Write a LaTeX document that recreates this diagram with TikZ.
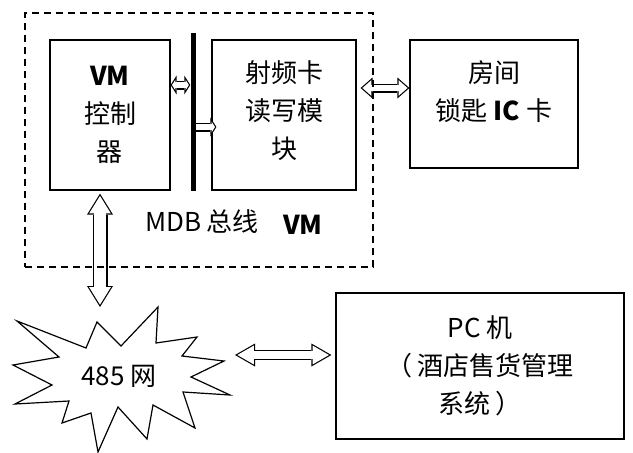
\documentclass[tikz,border=0pt]{standalone}
\usepackage{fontspec}
\setmainfont{Noto Sans CJK SC}
\usetikzlibrary{arrows.meta, positioning, calc}
\tikzset{%
  block/.style={rectangle, draw, line width=1.2pt, align=center, inner sep=0pt, font=\fontsize{26pt}{38pt}\selectfont},
  plain/.style={font=\fontsize{26pt}{38pt}\selectfont, inner sep=0pt},
  groupbox/.style={rectangle, draw, dash pattern=on 7pt off 5pt, line width=1.2pt, inner sep=0pt},
  busbar/.style={rectangle, fill=black, inner sep=0pt, minimum width=5pt},
  burst/.style={draw, line width=1.2pt, fill=white, line join=miter},
  % hollow arrows: black outline first, white core on top
  oS/.tip={Triangle[length=6pt, width=19pt, line width=0pt]},
  iS/.tip={Triangle[length=3.4pt, width=10.7pt, line width=0pt]},
  oM/.tip={Triangle[length=12pt, width=21pt, line width=0pt]},
  iM/.tip={Triangle[length=9pt, width=15.7pt, line width=0pt]},
  oB/.tip={Triangle[length=21pt, width=26pt, line width=0pt]},
  iB/.tip={Triangle[length=17.5pt, width=21.7pt, line width=0pt]},
  oW/.tip={Triangle[length=20pt, width=23pt, line width=0pt]},
  iW/.tip={Triangle[length=16.4pt, width=18.9pt, line width=0pt]},
  smallarrow/.style={draw=white, line width=6.6pt, iS-iS, shorten <=1.4pt, shorten >=1.4pt,
    preaction={draw=black, line width=9pt, oS-oS, shorten <=0pt, shorten >=0pt}},
  smallsingle/.style={draw=white, line width=6.6pt, -iS, shorten >=1.4pt,
    preaction={draw=black, line width=9pt, -oS, shorten >=0pt}},
  midarrow/.style={draw=white, line width=6.6pt, iM-iM, shorten <=1.8pt, shorten >=1.8pt,
    preaction={draw=black, line width=9pt, oM-oM, shorten <=0pt, shorten >=0pt}},
  bigarrow/.style={draw=white, line width=12.6pt, iB-iB, shorten <=2.3pt, shorten >=2.3pt,
    preaction={draw=black, line width=15pt, oB-oB, shorten <=0pt, shorten >=0pt}},
  widearrow/.style={draw=white, line width=7.6pt, iW-iW, shorten <=2.4pt, shorten >=2.4pt,
    preaction={draw=black, line width=10pt, oW-oW, shorten <=0pt, shorten >=0pt}}}

\begin{document}
\begin{tikzpicture}[x=1pt, y=-1pt]
    \useasboundingbox (0, 0) rectangle (633, 453);

    \node [block, minimum width=120pt, minimum height=150pt] (vm) at (110, 115) {\textbf{VM}\\控制\\器};
    \node [busbar, minimum height=158pt] (bus) at (193, 112) {};
    \node [block, minimum width=144pt, minimum height=150pt] (rf) at (284, 115) {射频卡\\读写模\\块\\[-28pt]\mbox{}};
    \node [block, minimum width=168pt, minimum height=128pt] (ic) at (494, 104) {房间\\锁匙 \textbf{IC} 卡\\[-12pt]\mbox{}};
    \node [block, minimum width=288pt, minimum height=146pt] (pc) at (480, 366) {PC 机\\（ 酒店售货管理\\系统 ）};

    \node [plain] (mdb) at (202, 222) {MDB 总线};
    \node [plain, font=\fontsize{26pt}{38pt}\selectfont\bfseries] (vmlabel) at (303, 225) {VM};

    % 485 network burst
    \draw [burst] (17, 321) -- (86, 348) -- (97, 322) -- (121, 346) -- (158, 307) -- (156, 343)
      -- (197, 337) -- (182, 356) -- (224, 361) -- (191, 377) -- (230, 395) -- (183, 392)
      -- (195, 428) -- (153, 405) -- (147, 439) -- (118, 407) -- (98, 452) -- (91, 413)
      -- (62, 423) -- (69, 401) -- (15, 404) -- (52, 385) -- (13, 365) -- (59, 357) -- cycle;
    \node [plain] (net) at (119, 376) {485 网};

    \coordinate (a1) at ([yshift=30pt]vm.east);
    \coordinate (a2) at ([yshift=-15pt]bus.east);
    \coordinate (a3) at ([xshift=4pt, yshift=27pt]rf.east);
    \coordinate (a4) at ([xshift=-10pt, yshift=-3pt]vm.south);
    \coordinate (nettop) at (100, 307);
    \coordinate (netright) at (235, 355);

    \path [smallarrow] (a1) -- (a1 -| bus.west);
    \path [smallsingle] (a2) -- ($(a2 -| rf.west) + (5, 0)$);
    \path [midarrow] (a3) -- (a3 -| ic.west);
    \path [bigarrow] (a4) -- (nettop);
    \path [widearrow] (netright) -- ($(netright -| pc.west) + (-4, 0)$);

    \node [groupbox, minimum width=348pt, minimum height=254pt] (vmgroup) at (199, 140) {};
\end{tikzpicture}
\end{document}
